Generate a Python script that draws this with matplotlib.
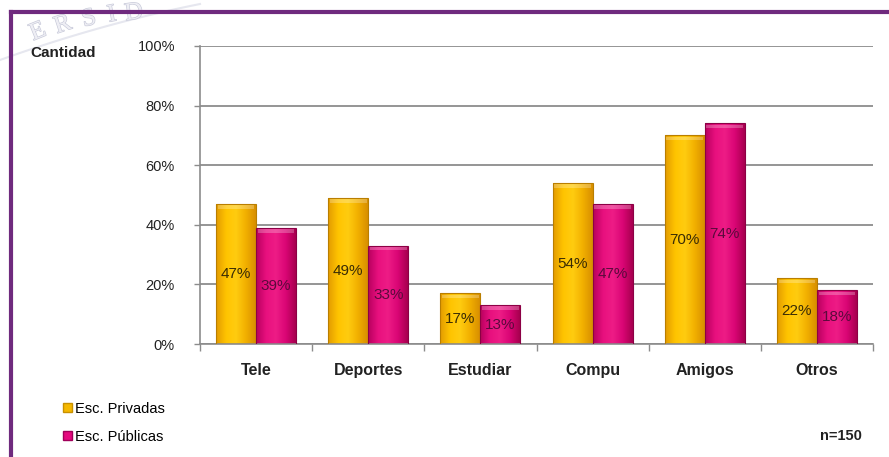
import numpy as np
import matplotlib
matplotlib.use("Agg")
import matplotlib.pyplot as plt
from matplotlib.colors import LinearSegmentedColormap
from matplotlib.patches import Patch
import matplotlib.patheffects as pe

plt.rcParams['font.family'] = ['Liberation Sans', 'DejaVu Sans']

# Data
categorias = ['Tele', 'Deportes', 'Estudiar', 'Compu', 'Amigos', 'Otros']
privadas = [47, 49, 17, 54, 70, 22]
publicas = [39, 33, 13, 47, 74, 18]
series_names = ['Esc. Privadas', 'Esc. Públicas']
yticks = [0, 20, 40, 60, 80, 100]

W, H = 889, 457
fig = plt.figure(figsize=(W / 100, H / 100), dpi=100)
fig.patch.set_facecolor('white')

ax = fig.add_axes([200 / W, 1 - 344 / H, 673 / W, 298 / H])

x = np.arange(len(categorias))
bw = 0.356

yellow_cmap = LinearSegmentedColormap.from_list('y', ['#E39B00', '#FFC400', '#FFCC10', '#F2B000', '#D88F00'])
pink_cmap = LinearSegmentedColormap.from_list('p', ['#B8005F', '#E8107E', '#EE1C86', '#DA0575', '#A8004F'])
grad = np.linspace(0, 1, 64).reshape(1, -1)


def draw_bars(xs, vals, cmap, edge, txtcol):
    bars = ax.bar(xs, vals, bw, color='none', edgecolor=edge, linewidth=0.8, zorder=3)
    for b, v in zip(bars, vals):
        x0, w = b.get_x(), b.get_width()
        im = ax.imshow(grad, cmap=cmap, extent=[x0, x0 + w, 0, v],
                       aspect='auto', zorder=2, interpolation='bicubic')
        im.set_clip_path(b)
        # lighter bevel along the top of each bar
        ax.bar(x0 + w / 2, 1.2, w * 0.92, bottom=v - 1.6, color='white',
               alpha=0.25, linewidth=0, zorder=3)
        ax.text(x0 + w / 2, v / 2, f'{v}%', ha='center', va='center',
                fontsize=11, color=txtcol, zorder=4)
    return bars


draw_bars(x - bw / 2, privadas, yellow_cmap, '#B97E00', '#3a2c05')
draw_bars(x + bw / 2, publicas, pink_cmap, '#8c0045', '#5b0a3c')

ax.set_xlim(-0.5, len(categorias) - 0.5)
ax.set_ylim(0, 100)

ax.set_yticks(yticks)
ax.set_yticklabels([f'{t}%' for t in yticks], fontsize=10.5, color='#222222')
ax.yaxis.grid(True, color='#8c8c8c', linewidth=1.3, zorder=0)
ax.set_axisbelow(True)

ax.set_xticks(np.arange(-0.5, len(categorias)), minor=False)
ax.set_xticklabels([])
ax.set_xticks(x, minor=True)
ax.set_xticklabels(categorias, minor=True, fontsize=11.5, fontweight='bold', color='#222222')
ax.tick_params(axis='x', which='major', length=5, color='#8c8c8c', width=1)
ax.tick_params(axis='x', which='minor', length=0, pad=14)
ax.tick_params(axis='y', length=4, color='#8c8c8c', width=1, pad=14)

for s in ['top', 'right']:
    ax.spines[s].set_visible(False)
for s in ['left', 'bottom']:
    ax.spines[s].set_color('#8c8c8c')
    ax.spines[s].set_linewidth(1.2)

fig.text(30 / W, 1 - 53 / H, 'Cantidad', fontsize=11, fontweight='bold',
         color='#222222', va='center')
fig.text(862 / W, 1 - 436 / H, 'n=150', fontsize=10.5, fontweight='bold',
         color='#222222', va='center', ha='right')

handles = [Patch(facecolor='#F5B800', edgecolor='#C89000'),
           Patch(facecolor='#E5097F', edgecolor='#A0005A')]
fig.legend(handles, series_names, loc='upper left',
           bbox_to_anchor=(57 / W, 1 - 396 / H), frameon=False,
           fontsize=10.5, handlelength=0.6, handleheight=0.6,
           handletextpad=0.25, labelspacing=0.95, borderaxespad=0)

# faint embossed seal lettering in the upper-left corner
seal = [('E', 38, 32, 22), ('R', 63, 25, 18), ('S', 89, 19, 14),
        ('I', 112, 15, 11), ('D', 134, 13, 8)]
for ch, px, py, rot in seal:
    fig.text(px / W, 1 - py / H, ch, fontsize=18, family='Liberation Serif',
             color='#eeeef4', rotation=rot, ha='center', va='center', zorder=0,
             path_effects=[pe.withStroke(linewidth=0.9, foreground='#c6c8d8')])
arc_x = np.linspace(0, 200, 60)
arc_y = 60 - 0.36 * arc_x + 0.0004 * arc_x ** 2
fig.add_artist(plt.Line2D(arc_x / W, 1 - arc_y / H, color='#e6e7ef',
                          linewidth=1.5, transform=fig.transFigure, zorder=0))

# purple frame on top and left
fig.add_artist(plt.Line2D([11 / W, 1], [1 - 12 / H, 1 - 12 / H], color='#6f2a7e',
                          linewidth=3, transform=fig.transFigure))
fig.add_artist(plt.Line2D([11 / W, 11 / W], [0, 1 - 12 / H], color='#6f2a7e',
                          linewidth=3, transform=fig.transFigure))

fig.savefig('out.png', dpi=100, facecolor='white')
